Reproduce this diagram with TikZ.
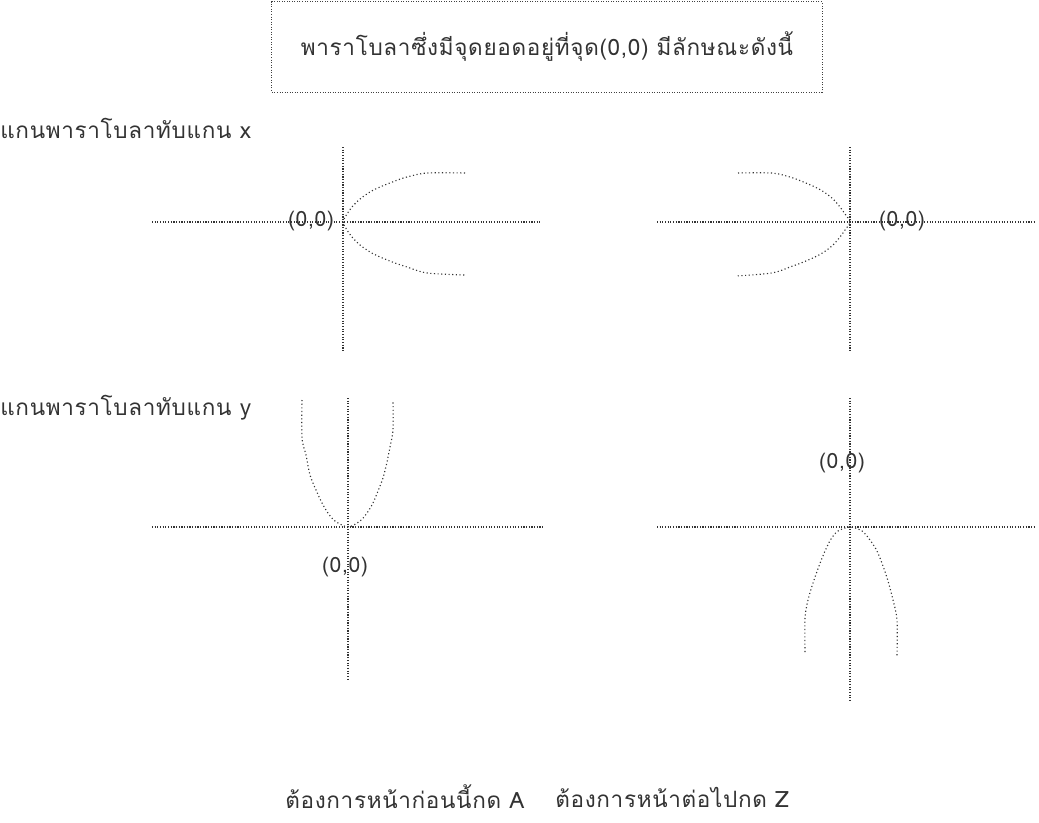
\documentclass[tikz,border=0pt]{standalone}
\usepackage{fontspec}
\setmainfont{Loma}[Script=Thai]
\newfontfamily\thaifont[Script=Thai,LetterSpace=3]{Loma}
\usetikzlibrary{positioning}

\begin{document}
\begin{tikzpicture}[x=0.025cm, y=-0.025cm,
  hdr/.style={rectangle, draw=black!75, line width=0.7pt,
    dash pattern=on 0.7pt off 1.1pt,
    minimum width=13.75cm, minimum height=2.25cm,
    inner sep=0pt, font=\thaifont\fontsize{16}{18}\selectfont, text=black!80},
  lbl/.style={anchor=west, inner sep=0pt,
    font=\thaifont\fontsize{16}{18}\selectfont, text=black!80},
  org/.style={inner sep=1pt,
    font=\thaifont\fontsize{15}{17}\selectfont, text=black!80},
  ax/.style={black!80, line width=0.8pt, dash pattern=on 0.8pt off 1.1pt},
  crv/.style={black!80, line width=0.8pt, dash pattern=on 0.8pt off 1.8pt}
]
\useasboundingbox (0,0) rectangle (1039,822);

%% ── Titulo ───────────────────────────────────────────────────────────
\node[hdr] (TT) at (547,47) {พาราโบลาซึ่งมีจุดยอดอยู่ที่จุด(0,0) มีลักษณะดังนี้};

%% ── Fila 1: eje de la parabola sobre x ──────────────────────────────
\node[lbl] (LX) at (0,128) {แกนพาราโบลาทับแกน x};

\coordinate (V1a) at (343,147); \coordinate (V1b) at (343,352);
\coordinate (H1a) at (152,222); \coordinate (H1b) at (540,222);
\coordinate (V2a) at (850,147); \coordinate (V2b) at (850,352);
\coordinate (H2a) at (657,222); \coordinate (H2b) at (1036,222);

\draw[ax] (V1a) -- (V1b);
\draw[ax] (H1a) -- (H1b);
\draw[ax] (V2a) -- (V2b);
\draw[ax] (H2a) -- (H2b);

\node[org] (O1) at (311,221) {(0,0)};
\node[org] (O2) at (902,221) {(0,0)};

\draw[crv] plot[smooth] coordinates {(465,173) (427,173) (407,177) (395,181)
  (380,187) (370,192) (360,199) (352,207) (347,214) (343,222) (347,230)
  (352,237) (360,245) (370,252) (380,257) (395,263) (407,267) (427,273)
  (465,275)};
\draw[crv] plot[smooth] coordinates {(738,173) (772,173) (790,177) (801,181)
  (815,187) (824,192) (833,199) (840,207) (845,214) (850,222) (845,230)
  (840,237) (833,245) (824,252) (815,257) (801,263) (790,267) (772,273)
  (736,276)};

%% ── Fila 2: eje de la parabola sobre y ──────────────────────────────
\node[lbl] (LY) at (0,408) {แกนพาราโบลาทับแกน y};

\coordinate (V3a) at (348,398); \coordinate (V3b) at (348,680);
\coordinate (H3a) at (152,527); \coordinate (H3b) at (543,527);
\coordinate (V4a) at (850,398); \coordinate (V4b) at (850,700);
\coordinate (H4a) at (657,527); \coordinate (H4b) at (1036,527);

\draw[ax] (V3a) -- (V3b);
\draw[ax] (H3a) -- (H3b);
\draw[ax] (V4a) -- (V4b);
\draw[ax] (H4a) -- (H4b);

\node[org] (O3) at (345,567) {(0,0)};
\node[org] (O4) at (842,463) {(0,0)};

\draw[crv] plot[smooth] coordinates {(302,400) (302,438) (306,455) (310,475)
  (316,490) (322,503) (328,513) (335,521) (348,527) (360,521) (367,513)
  (373,503) (378,491) (383,478) (387,462) (390,447) (393,430) (393,400)};
\draw[crv] plot[smooth] coordinates {(805,652) (805,618) (808,600) (813,583)
  (819,566) (825,551) (831,539) (838,531) (850,527) (862,531) (870,540)
  (877,551) (883,566) (888,581) (893,600) (897,620) (897,657)};

%% ── Pie ──────────────────────────────────────────────────────────────
\node[lbl] (PA) at (285,797) {ต้องการหน้าก่อนนี้กด A};
\node[lbl] (PZ) at (555,797) {ต้องการหน้าต่อไปกด Z};

\end{tikzpicture}
\end{document}
